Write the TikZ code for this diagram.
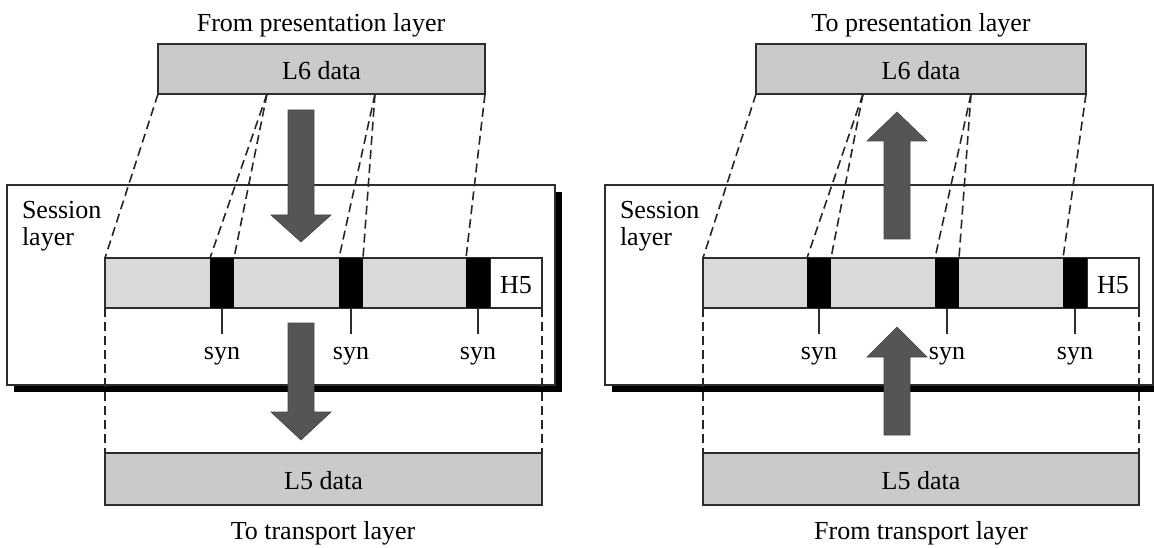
\documentclass[tikz,border=0pt]{standalone}
\usepackage{fontspec}
\setmainfont{Liberation Serif}
\usetikzlibrary{calc,shadows}

\definecolor{datagray}{RGB}{202,202,202}
\definecolor{bandgray}{RGB}{217,217,217}
\definecolor{arrowgray}{RGB}{85,85,85}
\definecolor{edgegray}{RGB}{45,45,45}

% block arrow: centre x, shaft end, head base, tip
\newcommand\blockarrow[4]{%
  \filldraw[bigarrow] (#1-13,#2) -- (#1+13,#2) -- (#1+13,#3) -- (#1+30,#3)
    -- (#1,#4) -- (#1-30,#3) -- (#1-13,#3) -- cycle;}

\begin{document}
\begin{tikzpicture}[x=1pt,y=-1pt,
  every node/.style={font=\fontsize{26}{27}\selectfont, inner sep=0pt, outer sep=0pt},
  sessbox/.style={draw=edgegray, line width=1.2pt, fill=white, anchor=north west,
    drop shadow={shadow xshift=7pt, shadow yshift=-7pt, fill=black, opacity=1}},
  databox/.style={draw=edgegray, line width=1.5pt, fill=datagray, anchor=north west},
  bandbox/.style={draw=edgegray, line width=1.5pt, fill=bandgray, anchor=north west,
    minimum height=50pt},
  hfive/.style={draw=edgegray, line width=1.5pt, fill=white, anchor=north west,
    minimum width=52pt, minimum height=50pt},
  synblock/.style={fill=black, anchor=north west, minimum width=24pt, minimum height=50pt},
  tick/.style={draw=edgegray, line width=1.3pt},
  mapline/.style={draw=black!85, line width=1.6pt, dash pattern=on 9pt off 5pt},
  bigarrow/.style={fill=arrowgray, draw=arrowgray!80!black, line width=0.6pt},
  label/.style={anchor=base},
  sesstext/.style={anchor=base west, align=left}]

\clip (0,0) rectangle (1154,548);

% ---------------- sending side ----------------
\node[label] (titleL) at (321,32) {From presentation layer};
\node[sessbox, minimum width=548pt, minimum height=200pt] (sessL) at (7,185) {};
\node[sesstext] (sessLtxt) at (22,246) {Session\\layer};
\node[databox, minimum width=327pt, minimum height=50pt] (l6L) at (158,44) {};
\node[label] at ($(l6L.center)+(0,11)$) {L6 data};

\node[bandbox, minimum width=437pt] (bandL) at (105,258) {};
\node[hfive] (h5L) at (490,258) {};
\node[label] at ($(h5L.center)+(0,10)$) {H5};
\node[synblock] (synL1) at (210,258) {};
\node[synblock] (synL2) at (339,258) {};
\node[synblock] (synL3) at (466,258) {};
\foreach \s in {synL1,synL2,synL3}{
  \draw[tick] (\s.south) -- ($(\s.south)+(0,26)$);
  \node[label] at ($(\s.south)+(0,51)$) {syn};
}

\node[databox, minimum width=437pt, minimum height=52pt] (l5L) at (105,453) {};
\node[label] at ($(l5L.center)+(0,10)$) {L5 data};
\node[label] (footL) at (323,539) {To transport layer};

\coordinate (l6La) at (267,94);
\coordinate (l6Lb) at (375,94);
\draw[mapline] (l6L.south west) -- (bandL.north west);
\draw[mapline] (l6La) -- (synL1.north west);
\draw[mapline] (l6La) -- (synL1.north east);
\draw[mapline] (l6Lb) -- (synL2.north west);
\draw[mapline] (l6Lb) -- (synL2.north east);
\draw[mapline] (l6L.south east) -- (synL3.north west);
\draw[mapline] (bandL.south west) -- (l5L.north west);
\draw[mapline] (bandL.south east) -- (l5L.north east);

\blockarrow{301}{110}{215}{242}
\blockarrow{301}{323}{412}{440}

% ---------------- receiving side ----------------
\node[label] (titleR) at (921,32) {To presentation layer};
\node[sessbox, minimum width=548pt, minimum height=200pt] (sessR) at (605,185) {};
\node[sesstext] (sessRtxt) at (620,246) {Session\\layer};
\node[databox, minimum width=330pt, minimum height=50pt] (l6R) at (756,44) {};
\node[label] at ($(l6R.center)+(0,11)$) {L6 data};

\node[bandbox, minimum width=436pt] (bandR) at (703,258) {};
\node[hfive] (h5R) at (1087,258) {};
\node[label] at ($(h5R.center)+(0,10)$) {H5};
\node[synblock] (synR1) at (807,258) {};
\node[synblock] (synR2) at (935,258) {};
\node[synblock] (synR3) at (1063,258) {};
\foreach \s in {synR1,synR2,synR3}{
  \draw[tick] (\s.south) -- ($(\s.south)+(0,26)$);
  \node[label] at ($(\s.south)+(0,51)$) {syn};
}

\node[databox, minimum width=436pt, minimum height=52pt] (l5R) at (703,453) {};
\node[label] at ($(l5R.center)+(0,10)$) {L5 data};
\node[label] (footR) at (921,539) {From transport layer};

\coordinate (l6Ra) at (863,94);
\coordinate (l6Rb) at (971,94);
\draw[mapline] (l6R.south west) -- (bandR.north west);
\draw[mapline] (l6Ra) -- (synR1.north west);
\draw[mapline] (l6Ra) -- (synR1.north east);
\draw[mapline] (l6Rb) -- (synR2.north west);
\draw[mapline] (l6Rb) -- (synR2.north east);
\draw[mapline] (l6R.south east) -- (synR3.north west);
\draw[mapline] (bandR.south west) -- (l5R.north west);
\draw[mapline] (bandR.south east) -- (l5R.north east);

\blockarrow{897}{239}{141}{112}
\blockarrow{897}{435}{357}{327}
\end{tikzpicture}
\end{document}
